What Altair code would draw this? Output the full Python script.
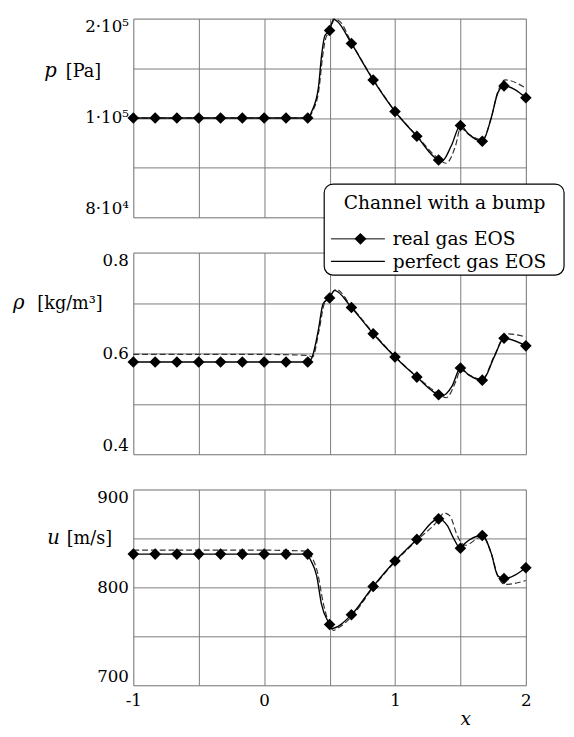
import altair as alt
import pandas as pd

SERIF = "DejaVu Serif"

# ---------------- data ----------------
X_MARKERS = [-1.0, -0.833, -0.667, -0.5, -0.333, -0.167, 0.0, 0.167, 0.333,
             0.5, 0.667, 0.833, 1.0, 1.167, 1.333, 1.5, 1.667, 1.833, 2.0]

# pressure p [Pa]
P_MARKERS = [100000, 100000, 100000, 100000, 100000, 100000, 100000, 100000, 100000,
             188000, 175000, 138300, 106500, 81600, 57700, 92500, 76600, 132300, 120400]
P_REAL_X = [-1.0, 0.0, 0.333, 0.364, 0.414, 0.439, 0.464, 0.5, 0.53, 0.56, 0.667, 0.833,
            1.0, 1.167, 1.333, 1.361, 1.43, 1.5, 1.56, 1.667, 1.735, 1.785, 1.833, 2.0]
P_REAL_V = [100000, 100000, 100000, 106700, 130000, 163000, 183000, 188000, 199500, 197000,
            175000, 138300, 106500, 81600, 57700, 57000, 72000, 92500, 84000, 76600,
            100000, 125000, 132300, 120400]
P_PERF_X = [-1.0, 0.0, 0.333, 0.37, 0.42, 0.445, 0.47, 0.5, 0.54, 0.58, 0.667, 0.833,
            1.0, 1.167, 1.333, 1.39, 1.466, 1.5, 1.56, 1.667, 1.735, 1.785, 1.84, 2.0]
P_PERF_V = [100000, 100000, 100000, 106700, 130000, 160000, 180000, 187000, 199500, 197000,
            176000, 139000, 107000, 82000, 59000, 54400, 73600, 90000, 84000, 78000,
            100000, 126000, 138300, 130000]
P_GRID = [0, 50000, 100000, 150000, 200000]
P_TICKS = [0, 100000, 200000]
P_TICK_LABELS = ["8·10⁴", "1·10⁵", "2·10⁵"]

# density rho [kg/m3]
R_MARKERS = [0.583, 0.583, 0.583, 0.583, 0.583, 0.583, 0.583, 0.583, 0.583,
             0.710, 0.691, 0.639, 0.593, 0.553, 0.518, 0.571, 0.547, 0.630, 0.615]
R_REAL_X = [-1.0, 0.0, 0.333, 0.364, 0.414, 0.451, 0.5, 0.538, 0.667, 0.833, 1.0, 1.167,
            1.333, 1.361, 1.436, 1.5, 1.56, 1.667, 1.76, 1.833, 2.0]
R_REAL_V = [0.583, 0.583, 0.583, 0.591, 0.646, 0.699, 0.710, 0.725, 0.691, 0.639, 0.593,
            0.553, 0.518, 0.516, 0.535, 0.571, 0.558, 0.547, 0.594, 0.630, 0.615]
R_PERF_X = [-1.0, 0.0, 0.333, 0.37, 0.42, 0.46, 0.5, 0.55, 0.667, 0.833, 1.0, 1.167,
            1.333, 1.39, 1.47, 1.5, 1.56, 1.667, 1.76, 1.85, 2.0]
R_PERF_V = [0.598, 0.598, 0.596, 0.593, 0.646, 0.699, 0.712, 0.727, 0.693, 0.641, 0.594,
            0.554, 0.520, 0.512, 0.548, 0.568, 0.558, 0.549, 0.596, 0.639, 0.633]
R_GRID = [0.4, 0.5, 0.6, 0.7, 0.8]
R_TICKS = [0.4, 0.6, 0.8]
R_TICK_LABELS = ["0.4", "0.6", "0.8"]

# velocity u [m/s]
U_MARKERS = [834, 834, 834, 834, 834, 834, 834, 834, 834,
             762, 772, 801, 827, 849, 870, 840, 853, 809, 820]
U_REAL_X = [-1.0, 0.0, 0.333, 0.351, 0.401, 0.438, 0.5, 0.513, 0.667, 0.833, 1.0, 1.167,
            1.333, 1.40, 1.448, 1.5, 1.535, 1.667, 1.735, 1.785, 1.833, 2.0]
U_REAL_V = [834, 834, 834, 829, 812, 783, 762, 758, 772, 801, 827, 849,
            870, 863, 850, 840, 845, 853, 835, 812, 809, 820]
U_PERF_X = [-1.0, 0.0, 0.333, 0.36, 0.41, 0.45, 0.5, 0.53, 0.56, 0.667, 0.833, 1.0, 1.167,
            1.333, 1.373, 1.42, 1.47, 1.5, 1.535, 1.667, 1.735, 1.785, 1.84, 2.0]
U_PERF_V = [838, 838, 837, 832, 814, 785, 762, 756, 758, 770, 800, 826, 848,
            869, 876, 873, 855, 847, 843, 852, 835, 812, 803, 807]
U_GRID = [700, 750, 800, 850, 900]
U_TICKS = [700, 800, 900]
U_TICK_LABELS = ["700", "800", "900"]

X_GRID = [-1.0, -0.5, 0.0, 0.5, 1.0, 1.5, 2.0]
X_TICKS = [-1.0, 0.0, 1.0, 2.0]
X_TICK_LABELS = ["-1", "0", "1", "2"]

LEGEND_TITLE = "Channel with a bump"
LEGEND_LABELS = ["real gas EOS", "perfect gas EOS"]

WIDTH = 401


def label_expr(ticks, labels):
    expr = "''"
    for t, lab in reversed(list(zip(ticks, labels))):
        expr = f"abs(datum.value - ({t})) < 1e-9 ? '{lab}' : ({expr})"
    return expr


def panel(markers, rx, rv, px, pv, domain, grid, ticks, tick_labels,
          var, unit, var_x, unit_x, title_y, height, bottom=False, extra=None):
    y_axis = alt.Axis(values=grid, labelExpr=label_expr(ticks, tick_labels), title=None,
                      ticks=False, domain=False, grid=True, gridColor="#7a7a7a",
                      gridWidth=1, labelFont=SERIF, labelFontSize=17, labelColor="black",
                      labelPadding=5, labelFlush=True)
    if bottom:
        x_axis = alt.Axis(values=X_GRID, labelExpr=label_expr(X_TICKS, X_TICK_LABELS),
                          title="x", titleFont=SERIF, titleFontStyle="italic",
                          titleFontWeight="normal", titleFontSize=19, titleX=339,
                          titleY=40, titleBaseline="alphabetic", titleColor="black",
                          ticks=False, domain=False, grid=True, gridColor="#7a7a7a",
                          labelFont=SERIF, labelFontSize=17, labelColor="black",
                          labelPadding=8, labelFlush=False)
    else:
        x_axis = alt.Axis(values=X_GRID, labels=False, ticks=False, domain=False,
                          grid=True, gridColor="#7a7a7a", title=None)
    xs = alt.Scale(domain=[-1, 2], nice=False, zero=False)
    ys = alt.Scale(domain=domain, nice=False, zero=False)

    df_perf = pd.DataFrame({"x": px, "v": pv})
    df_real = pd.DataFrame({"x": rx, "v": rv})
    df_mark = pd.DataFrame({"x": X_MARKERS, "v": markers})

    perf = alt.Chart(df_perf).mark_line(color="#333333", strokeWidth=1.2,
                                        strokeDash=[6, 3], interpolate="monotone").encode(
        x=alt.X("x:Q", scale=xs, axis=x_axis), y=alt.Y("v:Q", scale=ys, axis=y_axis))
    real = alt.Chart(df_real).mark_line(color="black", strokeWidth=1.4,
                                        interpolate="monotone").encode(
        x=alt.X("x:Q", scale=xs), y=alt.Y("v:Q", scale=ys))
    pts = alt.Chart(df_mark).mark_point(shape="diamond", filled=True, size=140,
                                        color="black", opacity=1).encode(
        x=alt.X("x:Q", scale=xs), y=alt.Y("v:Q", scale=ys))
    tvar = alt.Chart(pd.DataFrame({"t": [var]})).mark_text(
        font=SERIF, fontStyle="italic", fontSize=20, align="left", baseline="alphabetic",
        color="black").encode(text="t:N", x=alt.value(var_x), y=alt.value(title_y))
    tunit = alt.Chart(pd.DataFrame({"t": [unit]})).mark_text(
        font=SERIF, fontSize=18, align="left", baseline="alphabetic",
        color="black").encode(text="t:N", x=alt.value(unit_x), y=alt.value(title_y))
    layers = [perf, real, pts, tvar, tunit]
    if extra:
        layers += extra
    return alt.layer(*layers).properties(width=WIDTH, height=height)


# ---------------- legend (drawn in the density panel, above it) ----------------
one = pd.DataFrame({"k": [0]})
LEG_DY = 3
leg_box = alt.Chart(one).mark_rect(fill="white", stroke="black", strokeWidth=1.2,
                                   cornerRadius=9).encode(
    x=alt.value(195), x2=alt.value(440), y=alt.value(-73 + LEG_DY), y2=alt.value(20 + LEG_DY))
leg_title = alt.Chart(pd.DataFrame({"t": [LEGEND_TITLE]})).mark_text(
    font=SERIF, fontSize=19, align="center", baseline="alphabetic", color="black").encode(
    text="t:N", x=alt.value(318), y=alt.value(-48 + LEG_DY))
leg_rule1 = alt.Chart(one).mark_rule(color="black", strokeWidth=1).encode(
    x=alt.value(202), x2=alt.value(257), y=alt.value(-17 + LEG_DY))
leg_diam = alt.Chart(one).mark_point(shape="diamond", filled=True, size=150, color="black",
                                     opacity=1).encode(x=alt.value(232), y=alt.value(-17 + LEG_DY))
leg_rule2 = alt.Chart(one).mark_rule(color="black", strokeWidth=1.2).encode(
    x=alt.value(202), x2=alt.value(257), y=alt.value(6 + LEG_DY))
leg_t1 = alt.Chart(pd.DataFrame({"t": [LEGEND_LABELS[0]]})).mark_text(
    font=SERIF, fontSize=19, align="left", baseline="alphabetic", color="black").encode(
    text="t:N", x=alt.value(265), y=alt.value(-11 + LEG_DY))
leg_t2 = alt.Chart(pd.DataFrame({"t": [LEGEND_LABELS[1]]})).mark_text(
    font=SERIF, fontSize=19, align="left", baseline="alphabetic", color="black").encode(
    text="t:N", x=alt.value(265), y=alt.value(13 + LEG_DY))
legend = [leg_box, leg_title, leg_rule1, leg_diam, leg_rule2, leg_t1, leg_t2]

p_panel = panel(P_MARKERS, P_REAL_X, P_REAL_V, P_PERF_X, P_PERF_V, [0, 200000],
                P_GRID, P_TICKS, P_TICK_LABELS, "p", "[Pa]", -91, -69, 60, 203)
r_panel = panel(R_MARKERS, R_REAL_X, R_REAL_V, R_PERF_X, R_PERF_V, [0.4, 0.8],
                R_GRID, R_TICKS, R_TICK_LABELS, "ρ", "[kg/m³]", -123, -98, 58, 206,
                extra=legend)
u_panel = panel(U_MARKERS, U_REAL_X, U_REAL_V, U_PERF_X, U_PERF_V, [700, 900],
                U_GRID, U_TICKS, U_TICK_LABELS, "u", "[m/s]", -88, -68, 56, 200,
                bottom=True)

chart = alt.vconcat(p_panel, r_panel, u_panel, spacing=36, bounds="flush").properties(
    padding={"left": 4, "top": 0, "right": 0, "bottom": 0}
).configure_view(stroke="black", strokeWidth=1.5, fill="white").configure(
    background="white")

chart.save("out.html", embed_options={"renderer": "svg", "actions": False})
